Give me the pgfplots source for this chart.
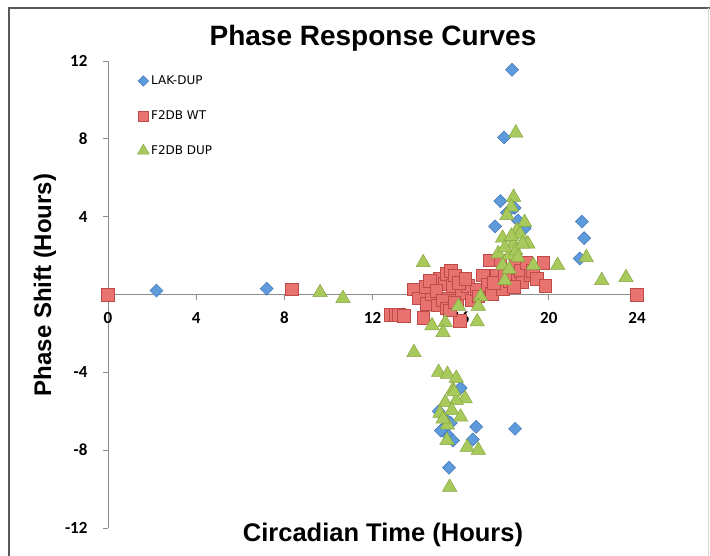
\documentclass[border=0pt]{standalone}
\usepackage{fontspec}
\usepackage{pgfplots}
\pgfplotsset{compat=1.18}
\setmainfont{Liberation Sans}
\newfontfamily\calf{Carlito}
\newfontfamily\lucf{DejaVu Sans}
\definecolor{bfill}{HTML}{5E9BDC}
\definecolor{bedge}{HTML}{3F74B5}
\definecolor{rfill}{HTML}{E8726F}
\definecolor{redge}{HTML}{BE4B48}
\definecolor{gfill}{HTML}{A8CA5C}
\definecolor{gedge}{HTML}{86A640}
\begin{document}
\begin{tikzpicture}[x=1pt,y=1pt]
\useasboundingbox (0,0) rectangle (710,-556);
\fill[white] (0,0) rectangle (710,-556);
\draw[line width=1.4pt, black!65] (9,-560) -- (9,-8) -- (712,-8);
\draw[line width=1pt, black!15] (708,-8) -- (708,-560);
\begin{axis}[
  at={(108pt,-528pt)}, anchor=south west,
  scale only axis, width=529pt, height=467pt,
  xmin=0, xmax=24, ymin=-12, ymax=12,
  axis lines=middle, clip=false,
  axis line style={black!45, line width=0.8pt, -},
  xtick={0,4,8,12,16,20,24},
  xticklabels={0,4,8,12,16,20,24},
  ytick={-12,-8,-4,4,8,12},
  yticklabels={-12,-8,-4,4,8,12},
  hide obscured x ticks=false, hide obscured y ticks=false,
  tick align=outside, major tick length=5pt,
  tick style={black!45, line width=0.8pt},
  ticklabel style={font=\calf\bfseries\fontsize{17}{19}\selectfont},
  xticklabel style={yshift=-9pt},
  yticklabel style={xshift=-12pt},
  legend style={at={(axis cs:1.2,11.45)}, anchor=north west, draw=none, fill=none,
    font=\lucf\fontsize{12}{14}\selectfont, row sep=20.5pt,
    legend cell align=left},
  legend image code/.code={\draw[scale=0.8] plot coordinates {(0.1cm,0cm)};},
]
\addplot[only marks, mark=square*, mark size=4.6pt,
  mark options={rotate=45, fill=bfill, draw=bedge, line width=0.5pt}]
coordinates {
(2.2,0.2) (7.2,0.3) (18.33,11.55) (17.97,8.07) (17.8,4.8) (17.56,3.5)
(18.45,4.45) (18.6,3.8) (18.9,3.4) (18.1,4.2) (21.5,3.75) (21.6,2.9) (21.4,1.85)
(16.7,-6.8) (18.47,-6.9) (16.55,-7.45) (15.47,-8.9) (15.0,-6.0) (15.3,-6.4)
(15.4,-7.2) (15.65,-7.5) (15.2,-6.9) (16.0,-4.8) (15.55,-6.6) (15.1,-7.0)
};
\addlegendentry{LAK-DUP}
\addplot[only marks, mark=square*, mark size=6.3pt,
  mark options={fill=rfill, draw=redge, line width=0.5pt}]
coordinates {
(0,0) (8.35,0.26) (24,0)
(12.8,-1.03) (13.03,-1.03) (13.2,-1.03) (13.43,-1.08)
(13.84,0.26) (14.1,-0.2) (14.3,-1.18) (14.47,-0.46) (14.7,0.05) (14.93,-0.56)
(15.06,0.82) (15.25,0.56) (15.34,1.08) (15.47,-0.2) (15.56,1.23) (15.65,0.46)
(15.74,0.98) (15.84,-0.3) (15.97,-1.34) (16.06,0.1) (16.33,0.46) (16.5,-0.3)
(16.7,0.26) (16.8,-0.1) (17.0,0.98) (17.2,0.5) (17.33,1.75) (17.42,0.05)
(17.65,0.98) (17.8,1.75) (17.9,0.3) (18.15,1.23) (18.24,0.72) (18.47,1.6)
(18.7,1.23) (18.8,0.62) (18.97,1.64) (19.15,0.98) (19.28,1.23) (19.46,0.82)
(19.74,1.64) (19.83,0.46)
(14.4,0.4) (14.6,0.7) (14.9,0.2) (15.2,-0.3) (15.35,-0.7) (15.5,-0.8)
(15.7,-0.4) (15.9,0.6) (16.2,0.8) (17.5,0.6) (18.0,1.0) (18.4,0.4)
};
\addlegendentry{F2DB WT}
\addplot[only marks, mark=triangle*, mark size=8.3pt,
  mark options={fill=gfill, draw=gedge, line width=0.5pt}]
coordinates {
(9.62,0.1) (10.66,-0.2) (14.3,1.64) (13.88,-2.98) (14.7,-1.6) (15.3,-1.44)
(15.2,-1.95) (16.9,-0.1) (16.8,-0.6) (16.75,-1.4) (15.9,-0.6) (18.0,0.72)
(19.3,1.5) (20.4,1.5) (21.7,1.9) (22.4,0.72) (23.5,0.87) (18.5,8.3)
(18.4,5.0) (18.3,4.5) (18.1,4.06) (18.9,3.7) (18.55,3.3) (17.9,2.9) (18.7,3.1)
(19.05,2.6) (18.4,2.6) (17.7,2.1) (18.2,2.0) (18.5,2.25) (18.6,1.9) (18.8,2.6)
(18.0,2.4) (18.3,3.0) (17.9,1.5) (18.2,1.3)
(15.0,-4.0) (15.4,-4.1) (15.8,-4.3) (15.65,-4.9) (16.2,-5.35) (15.8,-5.45)
(15.3,-5.55) (15.6,-5.96) (15.06,-6.1) (16.0,-6.3) (15.4,-6.7) (15.38,-7.5)
(16.3,-7.85) (16.8,-8.0) (15.5,-9.9) (15.7,-5.0) (15.2,-6.4)
};
\addlegendentry{F2DB DUP}
\end{axis}
\node[font=\bfseries\fontsize{28}{32}\selectfont] at (373,-38) {Phase Response Curves};
\node[font=\bfseries\fontsize{25.5}{28}\selectfont] at (383,-535) {Circadian Time (Hours)};
\node[font=\bfseries\fontsize{24}{27}\selectfont, rotate=90] at (45,-285) {Phase Shift (Hours)};
\end{tikzpicture}
\end{document}
